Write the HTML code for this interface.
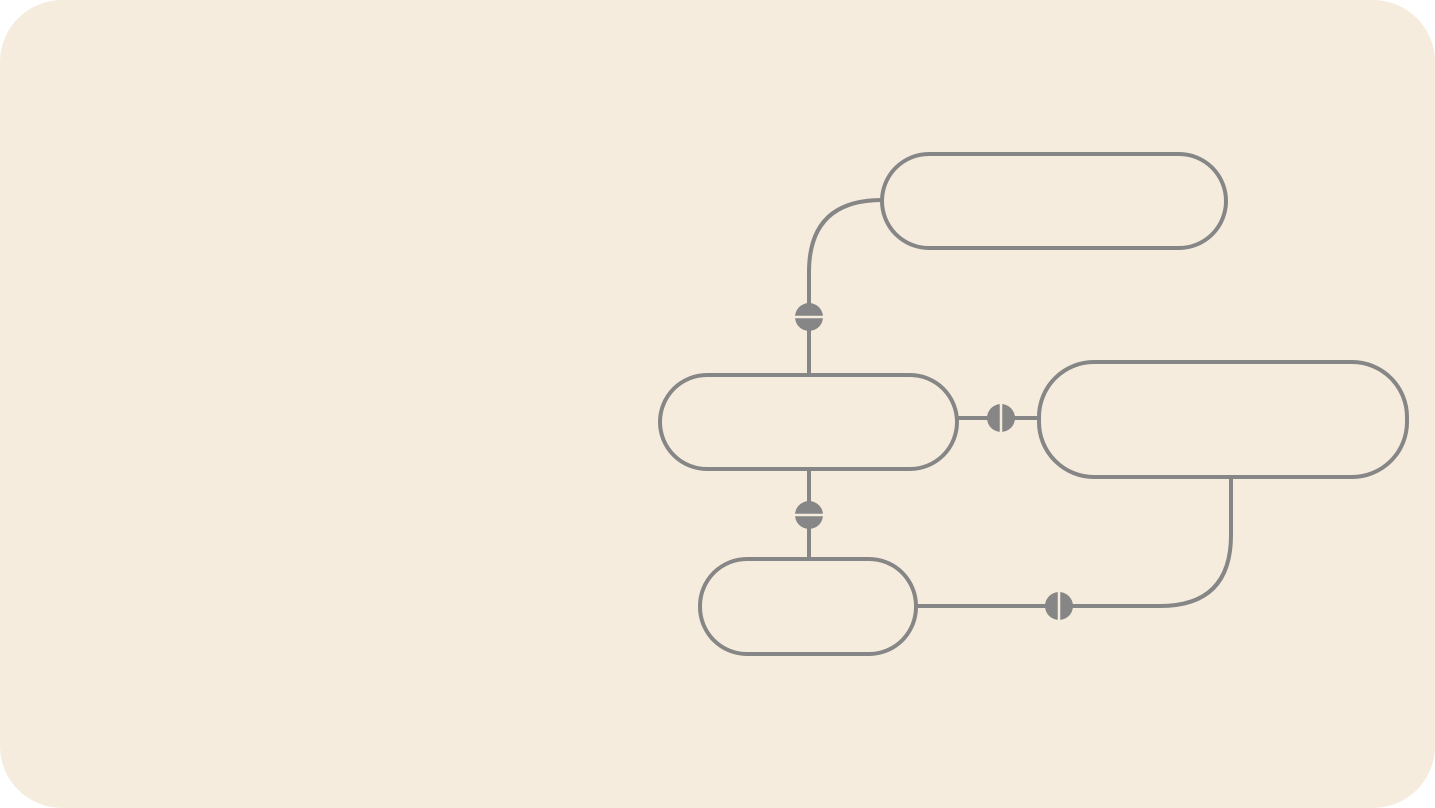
<html><body style="margin:0;background:#fff">
<svg width="1435" height="808" xmlns="http://www.w3.org/2000/svg">
<rect x="0" y="0" width="1435" height="808" rx="62" fill="#f5ecdd"/>
<g fill="none" stroke="#868686" stroke-width="4">
<rect x="882" y="154" width="344" height="94" rx="47"/>
<rect x="660" y="375" width="297" height="94" rx="47"/>
<rect x="1039" y="362" width="368" height="115" rx="55"/>
<rect x="700" y="559" width="216" height="95" rx="47"/>
<path d="M809 375 V272 Q809 200 882 200"/>
<path d="M957 418 H1039"/>
<path d="M809 469 V559"/>
<path d="M1231 477 V535 Q1231 606 1160 606 H916"/>
</g>
<g fill="#868686">
<circle cx="809" cy="317" r="14"/>
<circle cx="1001" cy="418" r="14"/>
<circle cx="809" cy="515" r="14"/>
<circle cx="1059" cy="606" r="14"/>
</g>
<g stroke="#f5ecdd" stroke-width="2.5">
<path d="M794 317 H824"/>
<path d="M1001 403 V433"/>
<path d="M794 515 H824"/>
<path d="M1059 591 V621"/>
</g>
</svg>
</body></html>
